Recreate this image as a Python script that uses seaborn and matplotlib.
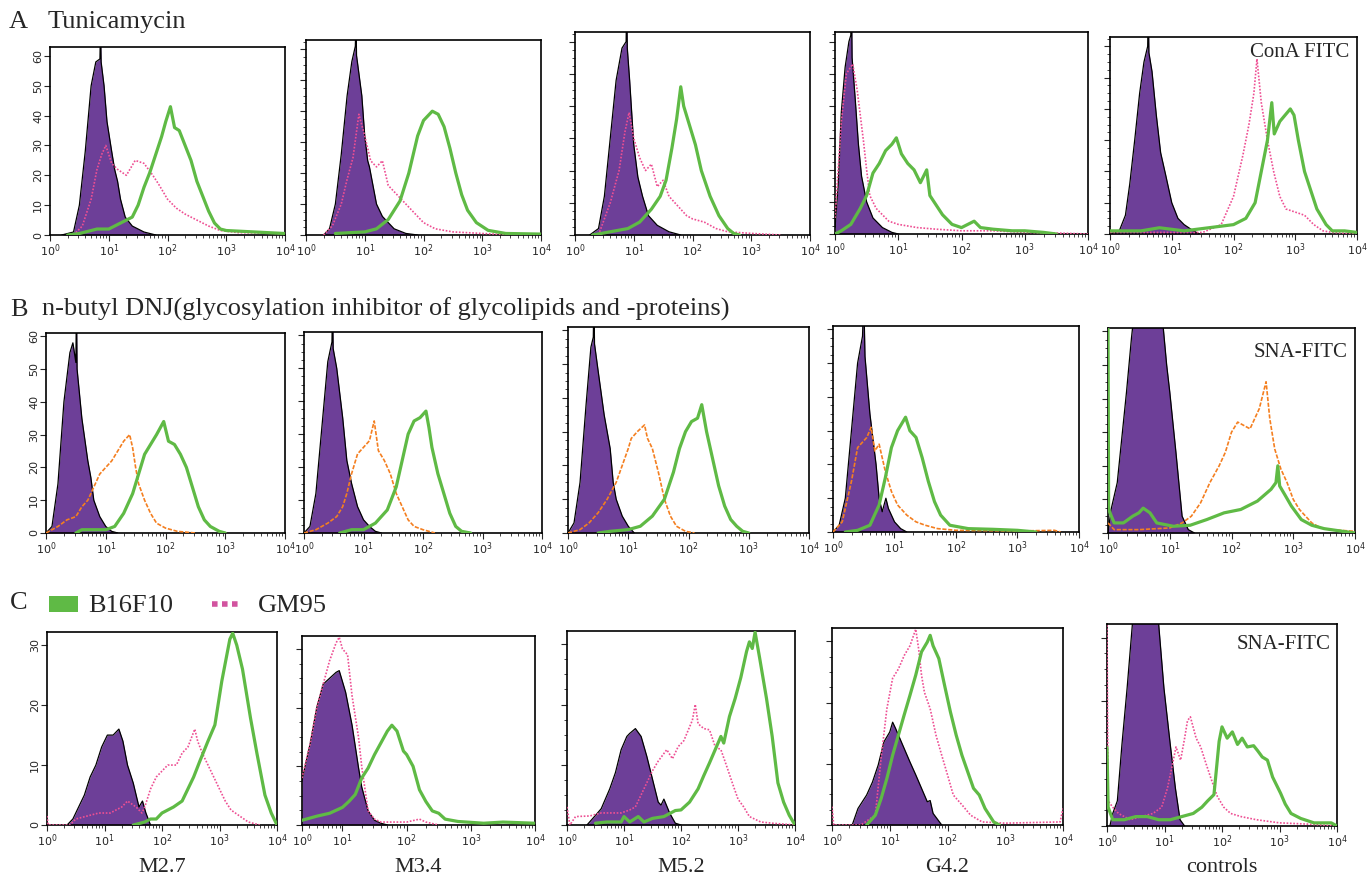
import numpy as np
import seaborn as sns
import matplotlib.pyplot as plt
from matplotlib.patches import Rectangle
from matplotlib.lines import Line2D
from matplotlib.ticker import MultipleLocator, LogLocator, NullFormatter

W, H = 1372, 881

# histograms: (log10 fluorescence, cell count)
a1_ctrl = [(0.2,0),(0.4,1),(0.5,10),(0.6,28),(0.7,50),(0.78,58),(0.85,59),(0.86,70),(0.87,58),(0.92,50),(0.97,38),(1.05,28),(1.1,22),(1.15,18),(1.2,12),(1.28,6),(1.4,3),(1.6,1),(1.8,0)]
a1_b16 = [(0.3,0),(0.5,0.5),(0.8,2),(1.0,2),(1.2,4),(1.4,6),(1.5,10),(1.6,16),(1.7,21),(1.8,27),(1.9,33),(1.97,38),(2.05,43),(2.12,36),(2.2,35),(2.3,30),(2.4,25),(2.5,18),(2.6,13),(2.7,8),(2.8,4),(2.9,2),(3.0,1.5),(3.5,1),(4.0,0.5)]
a1_gm = [(0.4,0),(0.55,3),(0.7,12),(0.8,22),(0.88,27),(0.95,30),(1.05,24),(1.15,22),(1.3,20),(1.45,25),(1.6,24),(1.75,20),(1.85,17),(2.0,12),(2.15,9),(2.3,7),(2.5,5),(2.7,3),(2.9,1.5),(3.2,0.8),(4.0,0.5)]

a2_ctrl = [(0.3,0),(0.4,2),(0.5,10),(0.6,26),(0.7,45),(0.78,56),(0.84,61),(0.85,70),(0.86,58),(0.95,45),(1.0,32),(1.05,24),(1.08,22),(1.12,18),(1.2,10),(1.3,6),(1.5,2),(1.7,0.5),(1.9,0)]
a2_b16 = [(0.5,0.5),(1.0,1),(1.2,2),(1.4,5),(1.6,11),(1.75,20),(1.9,32),(2.0,37),(2.1,39),(2.15,40),(2.25,39),(2.35,35),(2.45,28),(2.55,20),(2.65,13),(2.75,8),(2.9,4),(3.1,1.5),(3.4,0.5),(4.0,0.3)]
a2_gm = [(0.3,0),(0.45,3),(0.6,10),(0.7,18),(0.8,25),(0.9,39),(1.0,32),(1.1,24),(1.2,22),(1.3,24),(1.4,16),(1.5,14),(1.6,12),(1.75,9),(1.9,6),(2.0,4),(2.2,2),(2.5,1),(3.0,0.5),(3.5,0)]

a3_ctrl = [(0.25,0),(0.4,2),(0.5,12),(0.6,30),(0.7,48),(0.8,58),(0.87,60),(0.88,72),(0.89,58),(0.93,48),(1.0,28),(1.07,18),(1.15,12),(1.25,6),(1.4,3),(1.6,1),(1.8,0)]
a3_b16 = [(0.3,0),(0.6,1),(0.9,2),(1.1,4),(1.3,8),(1.45,12),(1.55,17),(1.65,27),(1.73,36),(1.8,46),(1.85,40),(1.95,34),(2.05,28),(2.15,20),(2.3,12),(2.45,6),(2.6,2),(2.7,0.5),(2.8,0)]
a3_gm = [(0.4,0),(0.6,10),(0.75,20),(0.85,32),(0.92,38),(1.0,30),(1.1,24),(1.2,20),(1.3,22),(1.4,15),(1.5,17),(1.6,12),(1.7,10),(1.8,8),(1.9,6),(2.0,5),(2.2,4),(2.4,2),(2.6,1),(3.0,0.5),(3.5,0)]

a4_ctrl = [(0.0,2),(0.05,15),(0.1,38),(0.16,52),(0.22,60),(0.25,62),(0.26,75),(0.27,55),(0.32,42),(0.37,28),(0.42,18),(0.5,10),(0.6,5),(0.75,2),(0.9,0.5),(1.0,0)]
a4_b16 = [(0.0,0),(0.1,1),(0.25,3),(0.4,8),(0.5,12),(0.6,19),(0.7,22),(0.8,26),(0.9,28),(0.97,30),(1.05,25),(1.15,22),(1.25,20),(1.35,16),(1.45,20),(1.5,12),(1.6,9),(1.7,6),(1.85,3),(2.0,2),(2.1,3),(2.2,4),(2.3,2),(2.5,1.5),(2.8,1),(3.0,1),(3.3,0.5),(3.5,0)]
a4_gm = [(0.0,5),(0.05,20),(0.1,35),(0.18,50),(0.28,53),(0.35,45),(0.45,29),(0.5,20),(0.55,12),(0.65,8),(0.75,6),(0.85,4),(1.0,3),(1.3,2),(1.6,1.5),(2.0,1),(2.5,1),(3.0,0.5),(3.5,0.3),(4.0,0)]

a5_ctrl = [(0.0,0),(0.15,1),(0.25,6),(0.32,16),(0.4,30),(0.48,45),(0.55,55),(0.61,60),(0.62,72),(0.63,58),(0.68,52),(0.75,38),(0.82,26),(0.9,19),(1.0,10),(1.1,5),(1.2,3),(1.35,1),(1.45,0)]
a5_b16 = [(0.0,1),(0.5,1),(0.8,2),(1.2,1),(1.6,2),(2.0,3),(2.2,5),(2.35,10),(2.45,20),(2.55,30),(2.62,42),(2.66,32),(2.75,36),(2.92,40),(2.98,38),(3.05,30),(3.15,20),(3.25,14),(3.35,8),(3.5,3),(3.6,1),(3.8,1),(4.0,0.5)]
a5_gm = [(0.0,0.5),(1.5,0.5),(1.8,3),(2.0,12),(2.15,25),(2.25,35),(2.33,45),(2.38,56),(2.45,42),(2.55,30),(2.65,20),(2.75,12),(2.85,8),(3.0,7),(3.15,6),(3.3,3),(3.45,1),(3.6,0.5),(4.0,0)]

b1_ctrl = [(0.0,0),(0.1,2),(0.2,15),(0.3,40),(0.4,55),(0.45,58),(0.5,52),(0.51,70),(0.52,50),(0.6,35),(0.7,22),(0.75,17),(0.8,10),(0.9,5),(1.0,2),(1.1,0.5),(1.2,0)]
b1_b16 = [(0.5,0),(0.6,1),(1.0,1),(1.15,2),(1.3,6),(1.45,12),(1.55,18),(1.65,24),(1.75,27),(1.85,30),(1.97,34),(2.05,28),(2.15,27),(2.25,24),(2.35,20),(2.45,14),(2.55,8),(2.65,4),(2.75,2),(2.9,0.5),(3.0,0)]
b1_gm = [(0.0,0),(0.2,2),(0.35,4),(0.5,5),(0.6,8),(0.7,10),(0.8,14),(0.9,18),(1.0,20),(1.1,22),(1.2,25),(1.3,28),(1.4,30),(1.45,26),(1.5,20),(1.55,15),(1.65,10),(1.75,6),(1.85,3),(2.0,1.5),(2.2,0.5),(2.5,0)]

b2_ctrl = [(0.0,0),(0.1,2),(0.2,12),(0.3,32),(0.4,52),(0.47,58),(0.48,70),(0.49,56),(0.55,50),(0.65,35),(0.72,22),(0.8,15),(0.9,8),(1.0,4),(1.1,2),(1.2,0.5),(1.3,0)]
b2_b16 = [(0.6,0),(0.8,1),(1.0,1),(1.2,3),(1.4,7),(1.55,14),(1.65,22),(1.75,30),(1.85,34),(1.95,35),(2.05,37),(2.1,32),(2.15,26),(2.25,18),(2.35,12),(2.45,6),(2.55,2),(2.65,0.5),(2.8,0)]
b2_gm = [(0.0,0),(0.2,1),(0.4,3),(0.55,5),(0.65,8),(0.72,12),(0.8,18),(0.9,24),(1.0,26),(1.1,28),(1.18,34),(1.25,25),(1.35,22),(1.45,18),(1.55,12),(1.65,8),(1.75,4),(1.85,2),(2.0,1),(2.2,0)]

b3_ctrl = [(0.0,0),(0.1,3),(0.2,15),(0.3,38),(0.38,55),(0.42,58),(0.43,70),(0.44,56),(0.5,48),(0.6,35),(0.7,25),(0.75,15),(0.8,10),(0.9,5),(1.0,2),(1.1,0)]
b3_b16 = [(0.5,0),(0.7,0.5),(1.0,1),(1.2,2),(1.4,5),(1.6,10),(1.75,18),(1.85,25),(1.95,30),(2.05,33),(2.15,34),(2.22,38),(2.3,30),(2.4,22),(2.5,14),(2.6,8),(2.7,4),(2.8,2),(2.9,0.5),(3.0,0)]
b3_gm = [(0.0,0),(0.2,1),(0.35,3),(0.5,6),(0.65,10),(0.8,15),(0.9,20),(1.0,25),(1.05,28),(1.15,30),(1.27,32),(1.32,28),(1.4,25),(1.5,18),(1.6,10),(1.7,5),(1.8,2),(1.95,0.5),(2.1,0)]

b4_ctrl = [(0.0,0),(0.1,2),(0.2,10),(0.3,30),(0.4,50),(0.48,58),(0.5,70),(0.52,52),(0.6,35),(0.7,20),(0.75,10),(0.8,6),(0.86,10),(0.9,7),(1.0,3),(1.1,1),(1.2,0)]
b4_b16 = [(0.2,0),(0.4,0.5),(0.6,2),(0.75,8),(0.85,16),(0.95,25),(1.05,30),(1.18,34),(1.25,30),(1.35,28),(1.45,22),(1.55,15),(1.65,9),(1.75,5),(1.9,2),(2.2,1),(2.6,0.8),(3.0,0.5),(3.3,0)]
b4_gm = [(0.0,0),(0.15,3),(0.3,15),(0.4,25),(0.55,28),(0.62,31),(0.68,24),(0.75,26),(0.85,18),(0.95,12),(1.05,8),(1.2,5),(1.35,3),(1.5,2),(1.7,1),(2.0,0.5),(3.0,0.3),(3.6,0.5),(3.7,0)]

b5_ctrl = [(0.0,0),(0.05,7),(0.15,15),(0.2,24),(0.3,42),(0.38,58),(0.45,70),(0.6,78),(0.75,75),(0.88,64),(0.95,50),(1.0,42),(1.1,24),(1.2,5),(1.3,1),(1.4,0)]
b5_b16 = [(0.0,61),(0.01,7),(0.1,3),(0.25,3),(0.4,5),(0.5,6),(0.57,7.4),(0.68,6),(0.79,3),(1.06,2),(1.33,2.3),(1.6,4),(1.88,6),(2.15,7),(2.42,9.5),(2.64,13),(2.72,15),(2.75,20),(2.78,14),(2.86,11.5),(2.97,8),(3.13,4),(3.3,2.3),(3.5,1.3),(3.8,0.5),(4.0,0)]
b5_gm = [(0.0,3),(0.1,1),(0.5,1),(1.0,1.5),(1.2,3),(1.35,5),(1.5,9),(1.65,15),(1.8,20),(1.9,24),(2.0,30),(2.1,33),(2.2,32),(2.3,31),(2.45,37),(2.56,45),(2.62,34),(2.7,25),(2.8,19),(2.9,15),(3.0,10),(3.1,7),(3.3,3),(3.45,1.5),(3.6,1),(4.0,0.5)]

c1_ctrl = [(0.35,0),(0.45,1),(0.55,3),(0.65,5),(0.75,8),(0.85,10),(0.95,13),(1.05,15),(1.15,15),(1.25,16),(1.32,14),(1.4,10),(1.5,7),(1.6,3),(1.66,4),(1.72,2),(1.8,0)]
c1_b16 = [(1.5,0),(1.7,0.5),(1.8,1),(1.9,1),(2.0,2),(2.2,3),(2.35,4),(2.45,6),(2.55,8),(2.66,10.7),(2.8,14),(2.92,16.7),(3.04,24),(3.12,28),(3.18,31),(3.23,32),(3.3,30),(3.4,26),(3.54,17.8),(3.65,12),(3.79,5),(3.9,2),(4.0,0)]
c1_gm = [(0.0,1.5),(0.02,0),(0.4,0),(0.5,1),(0.7,1.5),(0.9,2),(1.1,2),(1.3,3),(1.4,4),(1.55,3),(1.65,2),(1.7,3),(1.8,6),(1.9,8),(2.0,9),(2.1,10),(2.25,10),(2.35,12),(2.45,13),(2.57,16),(2.62,14),(2.7,12),(2.8,10),(2.9,8),(3.0,6),(3.1,4),(3.2,2.5),(3.35,1.5),(3.5,0.5),(3.7,0)]

c2_ctrl = [(0.37,7.6),(0.5,14),(0.6,20),(0.7,24),(0.8,25),(0.9,26),(0.95,26.3),(1.05,22.6),(1.15,17),(1.25,9.8),(1.3,6.5),(1.4,2.4),(1.5,0.8),(1.6,0.3),(1.7,0)]
c2_b16 = [(0.37,0.8),(0.6,1.5),(0.8,2),(1.0,3),(1.1,4),(1.2,5.2),(1.3,8),(1.4,9.7),(1.5,12),(1.6,14),(1.7,16),(1.77,17),(1.85,16),(1.95,12.6),(2.0,12),(2.1,10),(2.2,6),(2.3,4),(2.4,2.4),(2.5,2),(2.6,1),(2.8,0.6),(3.2,0.3),(3.5,0.5),(4.0,0.3)]
c2_gm = [(0.37,8),(0.5,14),(0.6,20),(0.7,24),(0.8,28),(0.9,31),(0.95,32),(1.0,30),(1.08,29),(1.15,22),(1.25,15),(1.3,10),(1.4,2.4),(1.5,1),(1.6,0.5),(2.0,0.5),(2.2,1),(2.3,0.5),(2.5,0)]

c3_ctrl = [(0.35,0),(0.5,1.6),(0.6,2.7),(0.75,6),(0.85,8.7),(0.95,12.5),(1.05,14.7),(1.1,15.2),(1.2,16),(1.3,14.7),(1.4,11.4),(1.5,7.6),(1.6,3.8),(1.65,3.3),(1.7,4.3),(1.8,2),(1.9,0.3),(2.0,0)]
c3_b16 = [(0.5,0.3),(0.7,0.5),(0.95,0.5),(1.0,1.4),(1.1,0.5),(1.25,1.4),(1.35,0.5),(1.5,1.1),(1.7,1.4),(1.9,2.4),(2.0,2.5),(2.15,3.8),(2.3,6),(2.4,8.2),(2.5,10.3),(2.6,12.5),(2.7,14.7),(2.75,13.6),(2.85,18),(2.95,21),(3.05,24.5),(3.15,28.8),(3.2,30.4),(3.25,29.3),(3.3,32),(3.38,27.7),(3.5,21),(3.6,14.7),(3.7,7),(3.8,3.8),(3.9,1.6),(4.0,0)]
c3_gm = [(0.0,3),(0.05,0),(0.15,1.4),(0.4,1.5),(0.6,2),(0.8,2),(0.95,2),(1.1,2.5),(1.2,3),(1.3,5),(1.4,7),(1.5,9),(1.6,10.6),(1.75,12.5),(1.85,11),(1.95,13),(2.05,14),(2.2,17.4),(2.25,20),(2.3,16.8),(2.4,16),(2.5,15.8),(2.6,13),(2.7,12.5),(2.8,9.8),(2.9,7),(3.0,4.3),(3.1,3),(3.2,1.4),(3.4,0.5),(3.6,0.3),(4.0,0)]

c4_ctrl = [(0.35,0),(0.45,2.7),(0.6,4.9),(0.7,7),(0.8,9.8),(0.9,13.6),(1.0,15.2),(1.05,16.8),(1.1,15.8),(1.2,13.6),(1.35,10.3),(1.45,8.2),(1.55,6),(1.65,3.8),(1.7,4),(1.75,1.9),(1.9,0)]
c4_b16 = [(0.6,0),(0.75,1.6),(0.85,4.3),(0.95,7.6),(1.05,11.4),(1.15,14.7),(1.25,18),(1.35,21.2),(1.45,24.5),(1.55,28.3),(1.65,29.9),(1.7,31),(1.75,29.3),(1.85,27.2),(1.95,22.8),(2.05,18.5),(2.15,14.7),(2.25,11.4),(2.35,8.7),(2.45,6),(2.55,4.9),(2.65,2.7),(2.8,0.5),(2.9,0)]
c4_gm = [(0.0,3),(0.03,0),(0.5,0),(0.75,1.6),(0.85,10.9),(0.95,19),(1.05,24),(1.15,25.5),(1.25,27.7),(1.35,29.3),(1.45,32),(1.5,28.8),(1.55,24.5),(1.6,21.7),(1.7,19),(1.8,14.7),(1.9,11.4),(2.0,8.2),(2.1,4.9),(2.25,3.3),(2.4,1.6),(2.6,0.5),(3.0,0.3),(3.95,0.5),(4.0,2.7)]

c5_ctrl = [(0.05,0),(0.1,2),(0.18,4),(0.26,13),(0.35,22),(0.44,32),(0.55,40),(0.7,42),(0.85,36),(0.9,32),(0.99,22),(1.1,13),(1.19,6),(1.27,1),(1.35,0)]
c5_b16 = [(0.0,12.5),(0.02,3),(0.1,1),(0.3,1),(0.5,1.5),(0.7,1.5),(0.9,1),(1.1,1),(1.3,1.5),(1.5,2),(1.65,3),(1.75,4),(1.86,5),(1.95,13.5),(2.0,15.8),(2.09,14),(2.18,15),(2.27,13),(2.35,14),(2.44,12.6),(2.55,12.8),(2.62,12),(2.7,11),(2.79,10.5),(2.88,7.8),(3.02,5.2),(3.1,3.5),(3.2,2),(3.37,1.2),(3.6,0.5),(3.9,0.5),(4.0,0)]
c5_gm = [(0.0,32),(0.02,4),(0.1,3),(0.2,2),(0.4,1),(0.6,1.5),(0.8,2),(0.95,3),(1.05,6),(1.12,9),(1.2,12.6),(1.28,10.5),(1.35,14),(1.4,16.8),(1.45,17.4),(1.55,14),(1.63,12.6),(1.72,10),(1.8,7.8),(1.92,4.7),(2.03,3),(2.15,2),(2.33,1.5),(2.6,1),(3.0,0.5),(3.5,0.3),(4.0,0)]

col_labels = ["M2.7", "M3.4", "M5.2", "G4.2", "controls"]

PURPLE = "#6d3f98"
GREEN = "#5fba45"
PINK = "#ee4f93"
ORANGE = "#f47f20"

sns.set_style("ticks")
plt.rcParams["font.family"] = ["DejaVu Sans"]
SERIF = "Liberation Serif"

fig = plt.figure(figsize=(W / 100, H / 100), dpi=100)


def add_box(l, t, r, b):
    return fig.add_axes([l / W, 1 - b / H, (r - l) / W, (b - t) / H])


def draw(ax, ctrl, b16, other, other_col, other_ls, ymax, yticks, xmin=0.0):
    cx, cy = np.array(ctrl).T
    ax.fill_between(10 ** cx, cy, color=PURPLE, lw=0, zorder=1)
    ax.plot(10 ** cx, cy, color="black", lw=0.9, zorder=2)
    ox, oy = np.array(other).T
    sns.lineplot(x=10 ** ox, y=oy, ax=ax, color=other_col, lw=1.2,
                 linestyle=other_ls, sort=False, estimator=None, zorder=3)
    gx, gy = np.array(b16).T
    sns.lineplot(x=10 ** gx, y=gy, ax=ax, color=GREEN, lw=2.3,
                 sort=False, estimator=None, zorder=4)
    ax.set_xscale("log")
    ax.set_xlim(10 ** xmin, 1e4)
    ax.set_ylim(0, ymax)
    ax.set_xlabel("")
    ax.set_ylabel("")
    ticks = [10 ** xmin, 10, 100, 1000, 10000] if xmin > 0 else [1, 10, 100, 1000, 10000]
    ax.set_xticks(ticks, [r"$10^{%d}$" % i for i in range(5)])
    ax.xaxis.set_minor_locator(LogLocator(base=10, subs=np.arange(2, 10)))
    ax.xaxis.set_minor_formatter(NullFormatter())
    if yticks is not None:
        ax.set_yticks(yticks, [str(v) for v in yticks])
        ax.tick_params(axis="y", labelrotation=90, labelsize=8)
        for lab in ax.get_yticklabels():
            lab.set_va("center")
    else:
        ax.set_yticks(np.arange(0, ymax, 10), [])
        ax.yaxis.set_minor_locator(MultipleLocator(2.5))
    ax.tick_params(axis="both", which="major", direction="out", length=4, width=0.8, pad=1)
    ax.tick_params(axis="both", which="minor", direction="out", length=2, width=0.6)
    ax.tick_params(axis="x", labelsize=8)
    for s in ax.spines.values():
        s.set_color("black")
        s.set_linewidth(1.2)
    if ax.get_legend() is not None:
        ax.get_legend().remove()


dots = (0, (1, 1))
dashes = (0, (2.5, 1))
ticks60 = [0, 10, 20, 30, 40, 50, 60]
ticks30 = [0, 10, 20, 30]

row_a = [(a1_ctrl, a1_b16, a1_gm), (a2_ctrl, a2_b16, a2_gm), (a3_ctrl, a3_b16, a3_gm),
         (a4_ctrl, a4_b16, a4_gm), (a5_ctrl, a5_b16, a5_gm)]
row_b = [(b1_ctrl, b1_b16, b1_gm), (b2_ctrl, b2_b16, b2_gm), (b3_ctrl, b3_b16, b3_gm),
         (b4_ctrl, b4_b16, b4_gm), (b5_ctrl, b5_b16, b5_gm)]
row_c = [(c1_ctrl, c1_b16, c1_gm), (c2_ctrl, c2_b16, c2_gm), (c3_ctrl, c3_b16, c3_gm),
         (c4_ctrl, c4_b16, c4_gm), (c5_ctrl, c5_b16, c5_gm)]

boxes_a = [(50, 47, 285, 235), (306, 40, 541, 235), (575, 32, 810, 235), (835, 32, 1088, 234), (1110, 37, 1357, 234)]
boxes_b = [(46, 333, 285, 533), (304, 332, 542, 533), (568, 327, 809, 533), (833, 326, 1079, 532), (1108, 328, 1355, 533)]
boxes_c = [(47, 632, 277, 825), (302, 636, 535, 825), (567, 631, 795, 825), (832, 628, 1063, 825), (1107, 624, 1337, 826)]

axes_a, axes_b, axes_c = [], [], []
for i, (d, bx) in enumerate(zip(row_a, boxes_a)):
    ax = add_box(*bx)
    draw(ax, d[0], d[1], d[2], PINK, dots, 63, ticks60 if i == 0 else None)
    axes_a.append(ax)
for i, (d, bx) in enumerate(zip(row_b, boxes_b)):
    ax = add_box(*bx)
    draw(ax, d[0], d[1], d[2], ORANGE, dashes, 61, ticks60 if i == 0 else None)
    axes_b.append(ax)
for i, (d, bx) in enumerate(zip(row_c, boxes_c)):
    ax = add_box(*bx)
    draw(ax, d[0], d[1], d[2], PINK, dots, 32.2, ticks30 if i == 0 else None,
         xmin=0.37 if i == 1 else 0.0)
    axes_c.append(ax)

# panel annotations
axes_a[4].text(0.97, 0.92, "ConA FITC", transform=axes_a[4].transAxes, ha="right", va="center",
               family=SERIF, fontsize=15)
axes_b[4].text(0.97, 0.88, "SNA-FITC", transform=axes_b[4].transAxes, ha="right", va="center",
               family=SERIF, fontsize=15)
axes_c[4].text(0.97, 0.9, "SNA-FITC", transform=axes_c[4].transAxes, ha="right", va="center",
               family=SERIF, fontsize=15)


def ftext(x, y, s, size=19, **kw):
    fig.text(x / W, 1 - y / H, s, family=SERIF, fontsize=size, va="baseline", **kw)


ftext(9, 28, "A")
ftext(48, 28, "Tunicamycin")
ftext(10, 316, "B")
ftext(42, 316, "n-butyl DNJ(glycosylation inhibitor of glycolipids and -proteins)")
ftext(10, 609, "C")
ftext(88, 612, "B16F10")
ftext(258, 612, "GM95")
fig.add_artist(Rectangle((49 / W, 1 - 612 / H), 29 / W, 16 / H, transform=fig.transFigure,
                         color=GREEN, lw=0))
fig.add_artist(Line2D([212 / W, 242 / W], [1 - 604 / H] * 2, transform=fig.transFigure,
                      color="#d2539f", lw=4, linestyle=(0, (1, 0.8))))

for lab, bx in zip(col_labels, boxes_c):
    ftext((bx[0] + bx[2]) / 2, 872, lab, size=16, ha="center")

fig.savefig("out.png", dpi=100)
